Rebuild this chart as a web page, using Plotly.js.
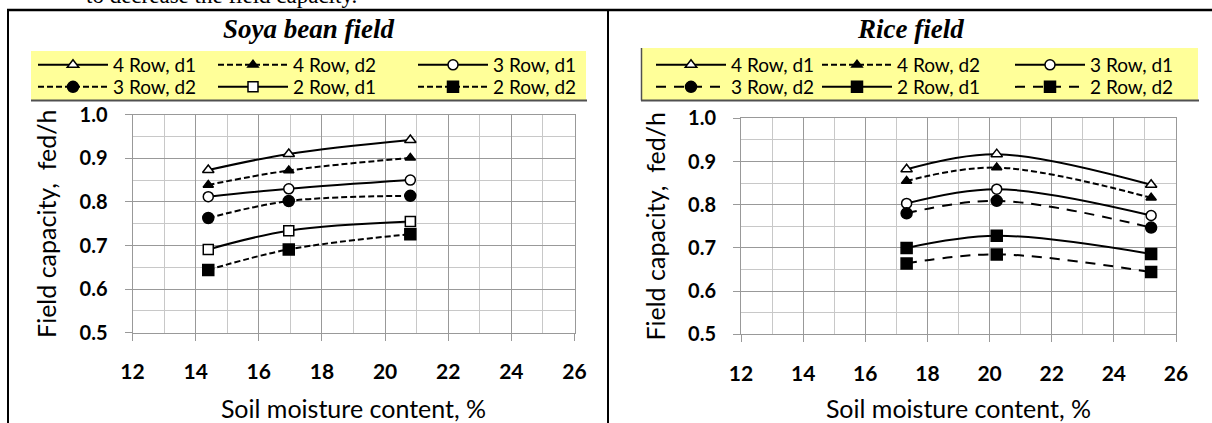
<!DOCTYPE html>
<html><head><meta charset="utf-8">
<script src="https://cdn.plot.ly/plotly-3.0.1.min.js"></script>
<style>html,body{margin:0;padding:0;background:#fff}</style>
</head><body><div id="chart" style="width:1212px;height:423px"></div>
<script>
// ---- data ----
const seriesNames = ['4 Row, d1', '4 Row, d2', '3 Row, d1', '3 Row, d2', '2 Row, d1', '2 Row, d2'];

const soyaMoisture = [14.4, 16.95, 20.8];
const soya4RowD1 = [0.873, 0.910, 0.942];
const soya4RowD2 = [0.839, 0.872, 0.901];
const soya3RowD1 = [0.812, 0.830, 0.850];
const soya3RowD2 = [0.763, 0.802, 0.814];
const soya2RowD1 = [0.691, 0.734, 0.755];
const soya2RowD2 = [0.644, 0.691, 0.726];

const riceMoisture = [17.33, 20.23, 25.2];
const rice4RowD1 = [0.882, 0.917, 0.846];
const rice4RowD2 = [0.855, 0.886, 0.816];
const rice3RowD1 = [0.803, 0.836, 0.775];
const rice3RowD2 = [0.780, 0.809, 0.747];
const rice2RowD1 = [0.700, 0.728, 0.686];
const rice2RowD2 = [0.664, 0.685, 0.644];

const xTickVals = [12, 14, 16, 18, 20, 22, 24, 26];
const yTickVals = [0.5, 0.6, 0.7, 0.8, 0.9, 1.0];

const chartTitles = ['Soya bean field', 'Rice field'];
const xTitle = 'Soil moisture content, %';
const yTitle = 'Field capacity,  fed/h';
const headerText = 'to decrease the field capacity.';

// ---- styles ----
const W = 1212, H = 423;
const FONT = 'Lato, "Open Sans", sans-serif';
const soyaStyles = [
  {symbol: 'triangle-up', fill: '#fff', size: 10, dash: 'solid'},
  {symbol: 'triangle-up', fill: '#000', size: 9, dash: '6px,3px'},
  {symbol: 'circle', fill: '#fff', size: 10, dash: 'solid'},
  {symbol: 'circle', fill: '#000', size: 11, dash: '6px,3px'},
  {symbol: 'square', fill: '#fff', size: 10, dash: 'solid'},
  {symbol: 'square', fill: '#000', size: 11, dash: '6px,3px'}
];
const riceStyles = [
  {symbol: 'triangle-up', fill: '#fff', size: 10, dash: 'solid'},
  {symbol: 'triangle-up', fill: '#000', size: 9, dash: '6px,3px'},
  {symbol: 'circle', fill: '#fff', size: 10, dash: 'solid'},
  {symbol: 'circle', fill: '#000', size: 11, dash: '10px,8px'},
  {symbol: 'square', fill: '#000', size: 11, dash: 'solid'},
  {symbol: 'square', fill: '#000', size: 11, dash: '10px,8px'}
];

const soyaSeries = [soya4RowD1, soya4RowD2, soya3RowD1, soya3RowD2, soya2RowD1, soya2RowD2];
const riceSeries = [rice4RowD1, rice4RowD2, rice3RowD1, rice3RowD2, rice2RowD1, rice2RowD2];

// legend item placement (px): left edge of each item, row centre
const legendCols = [[33, 213, 413], [651, 817, 1010]];
const legendRows = [65, 87];

function legendKey(idx) { return idx === 1 ? 'legend' : 'legend' + idx; }

const traces = [];
function addSeries(xs, seriesList, styles, xa, ya, chartIdx) {
  seriesList.forEach((ys, i) => {
    const st = styles[i];
    traces.push({
      type: 'scatter', mode: 'lines+markers',
      x: xs, y: ys, name: seriesNames[i],
      xaxis: xa, yaxis: ya, showlegend: true,
      legend: legendKey(chartIdx * 6 + i + 1),
      line: {color: '#000', width: 2, dash: st.dash, shape: 'spline', smoothing: 1},
      marker: {symbol: st.symbol, size: st.size, color: st.fill, line: {color: '#000', width: 1.5}},
      hoverinfo: 'x+y+name'
    });
  });
}
addSeries(soyaMoisture, soyaSeries, soyaStyles, 'x', 'y', 0);
addSeries(riceMoisture, riceSeries, riceStyles, 'x2', 'y2', 1);

function px2x(p) { return p / W; }
function px2y(p) { return 1 - p / H; }

const gridMajor = '#999999', gridMinor = '#c8c8c8';
function xAxis(domain, anchor) {
  return {
    domain: domain, anchor: anchor, range: [12, 26],
    tickmode: 'array', tickvals: xTickVals,
    showgrid: true, gridcolor: gridMajor, gridwidth: 1,
    minor: {dtick: 1, tick0: 12, showgrid: true, gridcolor: gridMinor, gridwidth: 1},
    ticks: 'outside', ticklen: 7, tickcolor: gridMajor,
    showline: true, linecolor: gridMajor, mirror: true, zeroline: false,
    tickfont: {family: FONT, size: 21, color: '#000', weight: 700},
    ticklabelstandoff: 13,
    title: {text: xTitle, font: {family: FONT, size: 25, color: '#000', weight: 400}, standoff: 19},
    fixedrange: true
  };
}
function yAxis(domain, anchor) {
  return {
    domain: domain, anchor: anchor, range: [0.5, 1.0],
    tickmode: 'array', tickvals: yTickVals, tickformat: '.1f',
    showgrid: true, gridcolor: gridMajor, gridwidth: 1,
    minor: {dtick: 0.05, tick0: 0.5, showgrid: true, gridcolor: gridMinor, gridwidth: 1},
    ticks: 'outside', ticklen: 7, tickcolor: gridMajor,
    showline: true, linecolor: gridMajor, mirror: true, zeroline: false,
    tickfont: {family: FONT, size: 20, color: '#000', weight: 700},
    ticklabelstandoff: 13,
    title: {text: yTitle, font: {family: FONT, size: 25, color: '#000', weight: 400}, standoff: 15},
    fixedrange: true
  };
}

const layout = {
  width: W, height: H,
  margin: {l: 0, r: 0, t: 0, b: 0},
  paper_bgcolor: '#fff', plot_bgcolor: '#fff',
  font: {family: FONT, color: '#000'},
  showlegend: true,
  xaxis: xAxis([px2x(132.5), px2x(574.5)], 'y'),
  yaxis: yAxis([px2y(332.7), px2y(114.7)], 'x'),
  xaxis2: xAxis([px2x(741), px2x(1176)], 'y2'),
  yaxis2: yAxis([px2y(334.3), px2y(118.3)], 'x2'),
  shapes: [
    // legend backgrounds
    {type: 'rect', xref: 'paper', yref: 'paper', x0: px2x(31), x1: px2x(586), y0: px2y(100), y1: px2y(51),
     fillcolor: '#ffff99', line: {width: 0}, layer: 'below'},
    {type: 'line', xref: 'paper', yref: 'paper', x0: px2x(31), x1: px2x(587), y0: px2y(100.5), y1: px2y(100.5),
     line: {color: '#505050', width: 2}},
    {type: 'rect', xref: 'paper', yref: 'paper', x0: px2x(642), x1: px2x(1198), y0: px2y(100), y1: px2y(48),
     fillcolor: '#ffff99', line: {width: 0}, layer: 'below'},
    {type: 'line', xref: 'paper', yref: 'paper', x0: px2x(641), x1: px2x(1199), y0: px2y(100.5), y1: px2y(100.5),
     line: {color: '#505050', width: 2}},
    {type: 'line', xref: 'paper', yref: 'paper', x0: px2x(641.5), x1: px2x(641.5), y0: px2y(100.5), y1: px2y(48),
     line: {color: '#505050', width: 1.5}},
    // frame
    {type: 'line', xref: 'paper', yref: 'paper', x0: px2x(7), x1: 1, y0: px2y(10), y1: px2y(10),
     line: {color: '#000', width: 2.5}},
    {type: 'line', xref: 'paper', yref: 'paper', x0: px2x(8), x1: px2x(8), y0: px2y(10), y1: 0,
     line: {color: '#000', width: 2}},
    {type: 'line', xref: 'paper', yref: 'paper', x0: px2x(608), x1: px2x(608), y0: px2y(10), y1: 0,
     line: {color: '#000', width: 2}}
  ],
  annotations: [
    {text: '<b><i>' + chartTitles[0] + '</i></b>', xref: 'paper', yref: 'paper', x: px2x(308), y: px2y(29),
     xanchor: 'center', yanchor: 'middle', showarrow: false,
     font: {family: '"Liberation Serif", "Times New Roman", serif', size: 27, color: '#000'}},
    {text: '<b><i>' + chartTitles[1] + '</i></b>', xref: 'paper', yref: 'paper', x: px2x(910), y: px2y(29),
     xanchor: 'center', yanchor: 'middle', showarrow: false,
     font: {family: '"Liberation Serif", "Times New Roman", serif', size: 27, color: '#000'}},
    {text: headerText, xref: 'paper', yref: 'paper', x: px2x(84), y: px2y(-5),
     xanchor: 'left', yanchor: 'middle', showarrow: false,
     font: {family: '"Liberation Serif", "Times New Roman", serif', size: 23, color: '#000'}}
  ],
  hovermode: 'closest'
};

// one legend per item so each sits exactly where the reference puts it
for (let c = 0; c < 2; c++) {
  for (let i = 0; i < 6; i++) {
    const idx = c * 6 + i + 1;
    const col = i % 3, row = Math.floor(i / 3);
    layout[legendKey(idx)] = {
      visible: true,
      x: px2x(legendCols[c][col]), y: px2y(legendRows[row]),
      xanchor: 'left', yanchor: 'middle', xref: 'paper', yref: 'paper',
      orientation: 'v', bgcolor: 'rgba(0,0,0,0)', borderwidth: 0,
      itemwidth: 70, itemclick: false, itemdoubleclick: false,
      font: {family: FONT, size: 19, color: '#000', weight: 400}
    };
  }
}

Plotly.newPlot('chart', traces, layout, {displayModeBar: false});
</script></body></html>
